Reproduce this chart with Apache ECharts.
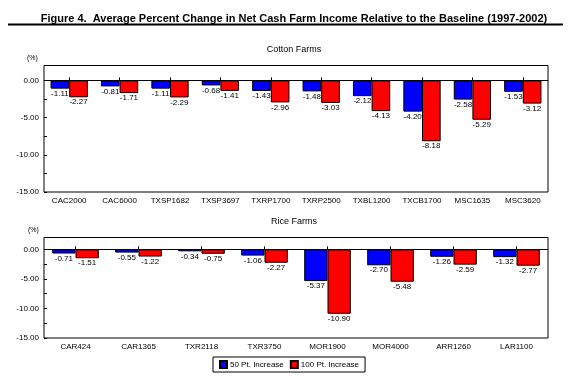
<!DOCTYPE html>
<html><head><meta charset="utf-8">
<script src="https://cdn.jsdelivr.net/npm/echarts@6/dist/echarts.min.js"></script>
<style>html,body{margin:0;padding:0;background:#fff}#c{width:575px;height:387px}</style>
</head><body><div id="c"></div>
<script>
const cottonCats = ['CAC2000','CAC6000','TXSP1682','TXSP3697','TXRP1700','TXRP2500','TXBL1200','TXCB1700','MSC1635','MSC3620'];
const cotton50 = [-1.11,-0.81,-1.11,-0.68,-1.43,-1.48,-2.12,-4.20,-2.58,-1.53];
const cotton100 = [-2.27,-1.71,-2.29,-1.41,-2.96,-3.03,-4.13,-8.18,-5.29,-3.12];
const riceCats = ['CAR424','CAR1365','TXR2118','TXR3750','MOR1900','MOR4000','ARR1260','LAR1100'];
const rice50 = [-0.71,-0.55,-0.34,-1.06,-5.37,-2.70,-1.26,-1.32];
const rice100 = [-1.51,-1.22,-0.75,-2.27,-10.90,-5.48,-2.59,-2.77];
const seriesNames = ['50 Pt. Increase','100 Pt. Increase'];
const yMin = -15, yMax = 2, yStep = 2.5;

const FONT = 'Liberation Sans, Arial, sans-serif';
const chart = echarts.init(document.getElementById('c'), null, {renderer:'canvas'});

function yAxis(idx){
  return {gridIndex: idx, type:'value', min:yMin, max:yMax, interval:yStep,
    axisLine:{show:false}, splitLine:{show:false},
    axisTick:{show:true, inside:true, length:3, lineStyle:{color:'#000'}},
    axisLabel:{color:'#000', fontSize:8, fontFamily:FONT, margin:5,
      formatter: v => (Math.abs(v % 5) < 1e-9) ? v.toFixed(2) : ''}};
}
function xAxis(idx, cats){
  return {gridIndex: idx, type:'category', data:cats, position:'bottom',
    axisLine:{show:false},
    axisTick:{show:true, inside:true, length:3, alignWithLabel:true, lineStyle:{color:'#000'}},
    axisLabel:{color:'#000', fontSize:8, fontFamily:FONT, margin:5, interval:0}};
}
function bar(name, data, idx, color, withZero){
  const s = {name, type:'bar', xAxisIndex:idx, yAxisIndex:idx, data,
    barGap:'0%', barCategoryGap:'26%',
    itemStyle:{color, borderColor:'#000', borderWidth:1},
    label:{show:true, position:'bottom', distance:1, color:'#000', fontSize:8, fontFamily:FONT,
      formatter: p => p.value.toFixed(2)},
    emphasis:{disabled:true}, animation:false};
  if (withZero) s.markLine = {silent:true, symbol:'none', label:{show:false},
    lineStyle:{color:'#000', width:1, type:'solid'}, data:[{yAxis:0}], animation:false};
  return s;
}
chart.setOption({
  animation:false,
  textStyle:{fontFamily:FONT},
  title:[
    {text:'Figure 4.  Average Percent Change in Net Cash Farm Income Relative to the Baseline (1997-2002)',
     left:289, top:8, textAlign:'center', textStyle:{fontSize:11, fontWeight:'bold', color:'#000', fontFamily:FONT}},
    {text:'Cotton Farms', left:289, top:40, textAlign:'center', textStyle:{fontSize:9, fontWeight:'normal', color:'#000'}},
    {text:'Rice Farms', left:289, top:212, textAlign:'center', textStyle:{fontSize:9, fontWeight:'normal', color:'#000'}},
    {text:'(%)', left:22, top:50, textStyle:{fontSize:7, fontWeight:'normal', color:'#000'}},
    {text:'(%)', left:23, top:222, textStyle:{fontSize:7, fontWeight:'normal', color:'#000'}}
  ],
  graphic:[{type:'line', shape:{x1:8, y1:24.5, x2:563, y2:24.5}, style:{stroke:'#000', lineWidth:2}}],
  legend:{data:seriesNames, left:213, top:357, width:150, orient:'horizontal',
    itemWidth:7, itemHeight:7, itemGap:6, padding:[3,6], borderColor:'#000', borderWidth:1,
    backgroundColor:'#fff', icon:'rect',
    textStyle:{fontSize:8, color:'#000', padding:[0,0,0,-2]}},
  grid:[
    {left:44, right:27, top:65.5, height:126.5, show:true, borderColor:'#000', borderWidth:1, backgroundColor:'#fff'},
    {left:44, right:27, top:237.5, height:100.5, show:true, borderColor:'#000', borderWidth:1, backgroundColor:'#fff'}
  ],
  xAxis:[xAxis(0,cottonCats), xAxis(1,riceCats)],
  yAxis:[yAxis(0), yAxis(1)],
  series:[
    bar(seriesNames[0], cotton50, 0, '#0000ff', true),
    bar(seriesNames[1], cotton100, 0, '#ff0000', false),
    bar(seriesNames[0], rice50, 1, '#0000ff', true),
    bar(seriesNames[1], rice100, 1, '#ff0000', false)
  ]
});
</script></body></html>
